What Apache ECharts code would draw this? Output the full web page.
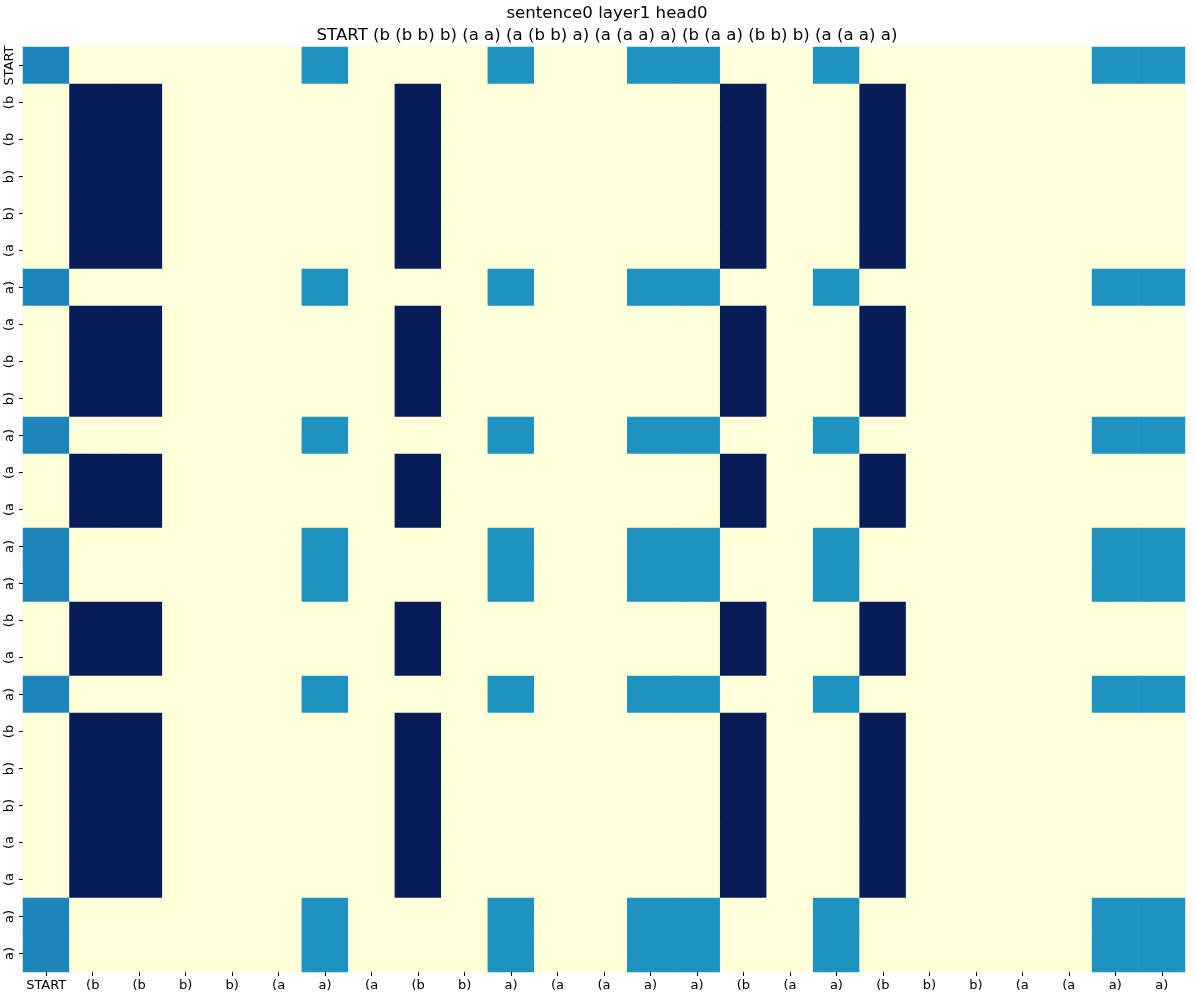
<!DOCTYPE html>
<html>
<head>
<meta charset="utf-8">
<script src="https://cdn.jsdelivr.net/npm/echarts@6/dist/echarts.min.js"></script>
<style>
    html, body { margin: 0; padding: 0; background: #fff; }
    #chart { width: 1196px; height: 998px; }
</style>
</head>
<body>
<div id="chart"></div>
<script>
// tokens (x and y use the same sentence)
const tokens = ['START', '(b', '(b', 'b)', 'b)', '(a', 'a)', '(a', '(b', 'b)', 'a)', '(a', '(a', 'a)', 'a)',
    '(b', '(a', 'a)', '(b', 'b)', 'b)', '(a', '(a', 'a)', 'a)'];
const titleText = 'sentence0 layer1 head0\nSTART (b (b b) b) (a a) (a (b b) a) (a (a a) a) (b (a a) (b b) b) (a (a a) a)';

// attention weights, one row per query token
const attn = [
    [.131, 0, 0, 0, 0, 0, .124, 0, 0, 0, .124, 0, 0, .124, .124, 0, 0, .124, 0, 0, 0, 0, 0, .124, .124],
    [0, .2, .2, 0, 0, 0, 0, 0, .2, 0, 0, 0, 0, 0, 0, .2, 0, 0, .2, 0, 0, 0, 0, 0, 0],
    [0, .2, .2, 0, 0, 0, 0, 0, .2, 0, 0, 0, 0, 0, 0, .2, 0, 0, .2, 0, 0, 0, 0, 0, 0],
    [0, .2, .2, 0, 0, 0, 0, 0, .2, 0, 0, 0, 0, 0, 0, .2, 0, 0, .2, 0, 0, 0, 0, 0, 0],
    [0, .2, .2, 0, 0, 0, 0, 0, .2, 0, 0, 0, 0, 0, 0, .2, 0, 0, .2, 0, 0, 0, 0, 0, 0],
    [0, .2, .2, 0, 0, 0, 0, 0, .2, 0, 0, 0, 0, 0, 0, .2, 0, 0, .2, 0, 0, 0, 0, 0, 0],
    [.131, 0, 0, 0, 0, 0, .124, 0, 0, 0, .124, 0, 0, .124, .124, 0, 0, .124, 0, 0, 0, 0, 0, .124, .124],
    [0, .2, .2, 0, 0, 0, 0, 0, .2, 0, 0, 0, 0, 0, 0, .2, 0, 0, .2, 0, 0, 0, 0, 0, 0],
    [0, .2, .2, 0, 0, 0, 0, 0, .2, 0, 0, 0, 0, 0, 0, .2, 0, 0, .2, 0, 0, 0, 0, 0, 0],
    [0, .2, .2, 0, 0, 0, 0, 0, .2, 0, 0, 0, 0, 0, 0, .2, 0, 0, .2, 0, 0, 0, 0, 0, 0],
    [.131, 0, 0, 0, 0, 0, .124, 0, 0, 0, .124, 0, 0, .124, .124, 0, 0, .124, 0, 0, 0, 0, 0, .124, .124],
    [0, .2, .2, 0, 0, 0, 0, 0, .2, 0, 0, 0, 0, 0, 0, .2, 0, 0, .2, 0, 0, 0, 0, 0, 0],
    [0, .2, .2, 0, 0, 0, 0, 0, .2, 0, 0, 0, 0, 0, 0, .2, 0, 0, .2, 0, 0, 0, 0, 0, 0],
    [.131, 0, 0, 0, 0, 0, .124, 0, 0, 0, .124, 0, 0, .124, .124, 0, 0, .124, 0, 0, 0, 0, 0, .124, .124],
    [.131, 0, 0, 0, 0, 0, .124, 0, 0, 0, .124, 0, 0, .124, .124, 0, 0, .124, 0, 0, 0, 0, 0, .124, .124],
    [0, .2, .2, 0, 0, 0, 0, 0, .2, 0, 0, 0, 0, 0, 0, .2, 0, 0, .2, 0, 0, 0, 0, 0, 0],
    [0, .2, .2, 0, 0, 0, 0, 0, .2, 0, 0, 0, 0, 0, 0, .2, 0, 0, .2, 0, 0, 0, 0, 0, 0],
    [.131, 0, 0, 0, 0, 0, .124, 0, 0, 0, .124, 0, 0, .124, .124, 0, 0, .124, 0, 0, 0, 0, 0, .124, .124],
    [0, .2, .2, 0, 0, 0, 0, 0, .2, 0, 0, 0, 0, 0, 0, .2, 0, 0, .2, 0, 0, 0, 0, 0, 0],
    [0, .2, .2, 0, 0, 0, 0, 0, .2, 0, 0, 0, 0, 0, 0, .2, 0, 0, .2, 0, 0, 0, 0, 0, 0],
    [0, .2, .2, 0, 0, 0, 0, 0, .2, 0, 0, 0, 0, 0, 0, .2, 0, 0, .2, 0, 0, 0, 0, 0, 0],
    [0, .2, .2, 0, 0, 0, 0, 0, .2, 0, 0, 0, 0, 0, 0, .2, 0, 0, .2, 0, 0, 0, 0, 0, 0],
    [0, .2, .2, 0, 0, 0, 0, 0, .2, 0, 0, 0, 0, 0, 0, .2, 0, 0, .2, 0, 0, 0, 0, 0, 0],
    [.131, 0, 0, 0, 0, 0, .124, 0, 0, 0, .124, 0, 0, .124, .124, 0, 0, .124, 0, 0, 0, 0, 0, .124, .124],
    [.131, 0, 0, 0, 0, 0, .124, 0, 0, 0, .124, 0, 0, .124, .124, 0, 0, .124, 0, 0, 0, 0, 0, .124, .124]
];

// YlGnBu
const palette = ['#ffffd9', '#edf8b1', '#c7e9b4', '#7fcdbb', '#41b6c4', '#1d91c0', '#225ea8', '#253494', '#081d58'];

const cells = [];
for (let r = 0; r < attn.length; r++) {
    for (let c = 0; c < attn[r].length; c++) {
        cells.push([c, r, attn[r][c]]);
    }
}

const chart = echarts.init(document.getElementById('chart'));
const labelFont = { fontFamily: 'DejaVu Sans', fontSize: 13, color: '#000' };
const option = {
    animation: false,
    title: {
        text: titleText,
        left: 602,
        textAlign: 'center',
        top: -2,
        textStyle: { fontFamily: 'DejaVu Sans', fontSize: 16.6, fontWeight: 'normal', color: '#000', lineHeight: 22 }
    },
    grid: { left: 23, right: 11, top: 47, bottom: 26 },
    xAxis: {
        type: 'category',
        data: tokens,
        axisLine: { show: false },
        axisTick: { show: true, length: 4, alignWithLabel: true, lineStyle: { color: '#000' } },
        axisLabel: Object.assign({ interval: 0, margin: 7 }, labelFont),
        splitLine: { show: false }
    },
    yAxis: {
        type: 'category',
        data: tokens,
        inverse: true,
        axisLine: { show: false },
        axisTick: { show: true, length: 4, alignWithLabel: true, lineStyle: { color: '#000' } },
        axisLabel: Object.assign({ interval: 0, margin: 7, rotate: 90 }, labelFont),
        splitLine: { show: false }
    },
    visualMap: {
        show: false,
        min: 0,
        max: 0.2,
        inRange: { color: palette }
    },
    series: [
        {
            type: 'heatmap',
            data: cells,
            itemStyle: { borderWidth: 0 },
            emphasis: { disabled: true }
        }
    ]
};
chart.setOption(option);
</script>
</body>
</html>
